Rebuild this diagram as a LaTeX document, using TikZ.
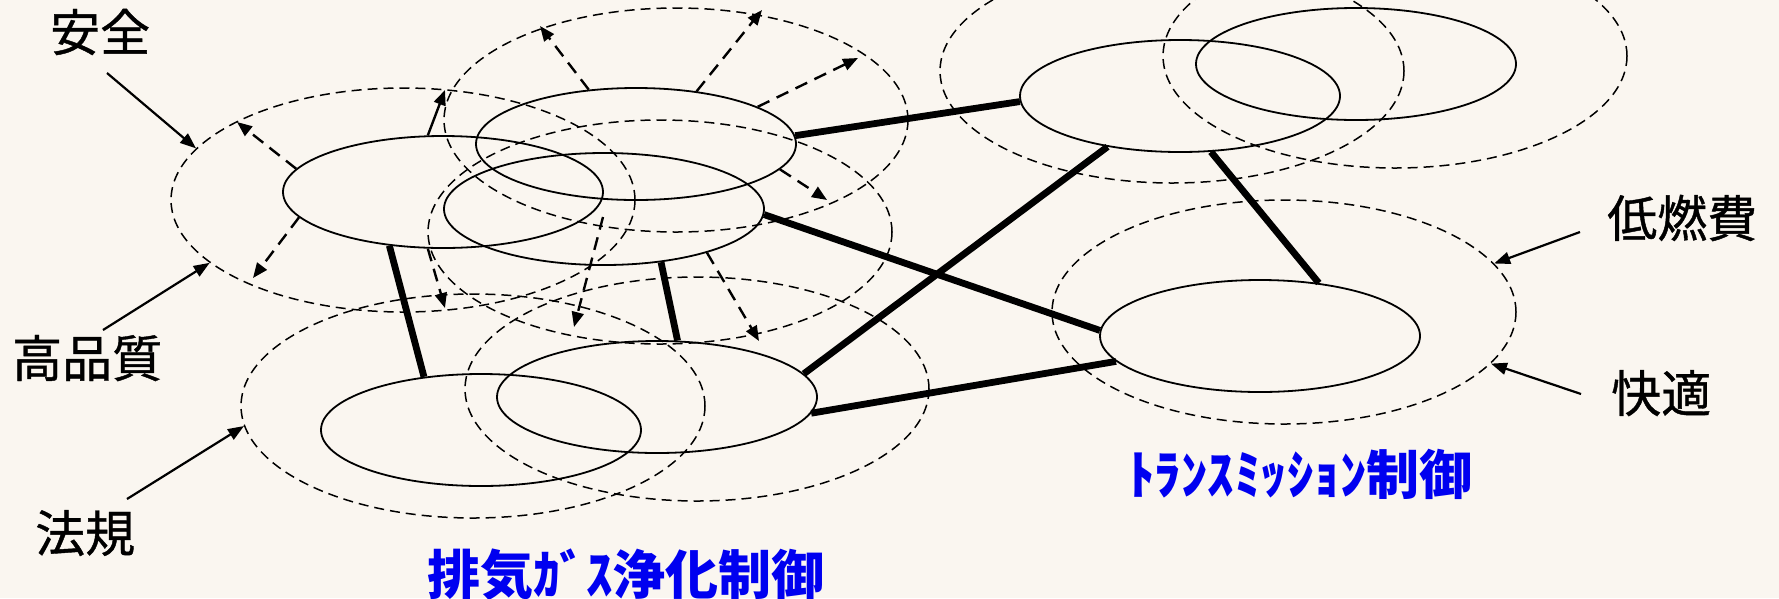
\documentclass[tikz,border=0pt]{standalone}
\usepackage{fontspec}
\newfontfamily\jp[FakeBold=0.8]{Noto Sans CJK JP}
\newfontfamily\jpctl{Noto Sans CJK JP}
\usetikzlibrary{shapes.geometric,arrows.meta}
\definecolor{bgc}{RGB}{250,246,240}
\definecolor{ctlblue}{RGB}{0,0,240}
\tikzset{
  core/.style={ellipse, draw, line width=1.8pt, minimum width=320pt, minimum height=112pt, inner sep=0pt},
  zone/.style={ellipse, draw, line width=1.5pt, dash pattern=on 10pt off 6pt, minimum width=464pt, minimum height=224pt, inner sep=0pt},
  link/.style={line width=6.8pt},
  tipped/.style={-{Triangle[length=15pt,width=12pt]}},
  spread/.style={tipped, line width=2.4pt, dash pattern=on 13pt off 8pt},
  push/.style={tipped, line width=2.4pt},
  pointer/.style={-{Triangle[length=16pt,width=12pt]}, line width=2.2pt},
  lbl/.style={font=\jp\fontsize{50pt}{50pt}\selectfont, inner sep=0pt, anchor=base west},
  ctl/.style={font=\jpctl\bfseries\fontsize{53pt}{53pt}\selectfont, text=ctlblue, inner sep=0pt, anchor=base west},
}
\begin{document}
\begin{tikzpicture}[x=1pt,y=-1pt]
\fill[bgc] (0,0) rectangle (1779,598);
\useasboundingbox (0,0) rectangle (1779,598);
% range (dashed) ellipses
\node[zone] (Ar) at (403,200) {};
\node[zone] (Br) at (676,120) {};
\node[zone] (Cr) at (660,232) {};
\node[zone] (Dr) at (473,406) {};
\node[zone] (Er) at (697,389) {};
\node[zone] (Fr) at (1172,71) {};
\node[zone] (Gr) at (1395,56) {};
\node[zone] (Hr) at (1284,312) {};
% core ellipses
\node[core] (A) at (443,192) {};
\node[core] (B) at (636,144) {};
\node[core] (C) at (604,209) {};
\node[core] (D) at (481,430) {};
\node[core] (E) at (657,397) {};
\node[core] (F) at (1180,96) {};
\node[core] (G) at (1356,64) {};
\node[core] (H) at (1260,336) {};
% thick links
\draw[link] (B.3) -- (F.182);
\draw[link] (C.-2) -- (H.178);
\draw[link] (F.215) -- (E.9);
\draw[link] (F.-61) -- (H.42);
\draw[link] (E.-6) -- (H.190);
\draw[link] (A.225) -- (D.137);
\draw[link] (C.-43) -- (E.70);
% spread arrows
\coordinate (a1t) at (237,122);
\coordinate (a2t) at (253,278);
\coordinate (a3t) at (445,90);
\coordinate (a4t) at (445,308);
\coordinate (b1t) at (540,26);
\coordinate (b2t) at (762,10);
\coordinate (b3t) at (858,58);
\coordinate (b4t) at (827,200);
\coordinate (c1s) at (603,217);
\coordinate (c1t) at (574,327);
\coordinate (c2t) at (759,341);
\draw[spread] (A.171) -- (a1t);
\draw[spread] (A.190) -- (a2t);
\draw[push] (A.105) -- (a3t);
\draw[spread] (A.255) -- (a4t);
\draw[spread] (B.131) -- (b1t);
\draw[spread] (B.41) -- (b2t);
\draw[spread] (B.17) -- (b3t);
\draw[spread] (B.-10) -- (b4t);
\draw[spread] (c1s) -- (c1t);
\draw[spread] (C.-23) -- (c2t);
% labels
\node[lbl] (anzen) at (50,51) {安全};
\node[lbl] (hinshitsu) at (12,377) {高品質};
\node[lbl] (houki) at (35,552) {法規};
\node[lbl] (nenpi) at (1607,237) {低燃費};
\node[lbl] (kaiteki) at (1611,412) {快適};
\coordinate (anzenS) at (107,73);
\coordinate (hinshitsuS) at (103,330);
\coordinate (houkiS) at (127,499);
\coordinate (nenpiS) at (1580,232);
\coordinate (kaitekiS) at (1581,394);
\draw[pointer] (anzenS) -- (Ar.166);
\draw[pointer] (hinshitsuS) -- (Ar.198);
\draw[pointer] (houkiS) -- (Dr.185.5);
\draw[pointer] (nenpiS) -- (Hr.13);
\draw[pointer] (kaitekiS) -- (Hr.-14);
\node[ctl] (exh) at (427,594) {排気ｶﾞｽ浄化制御};
\node[ctl] (trans) at (1128,494) {ﾄﾗﾝｽﾐｯｼｮﾝ制御};
\end{tikzpicture}
\end{document}
